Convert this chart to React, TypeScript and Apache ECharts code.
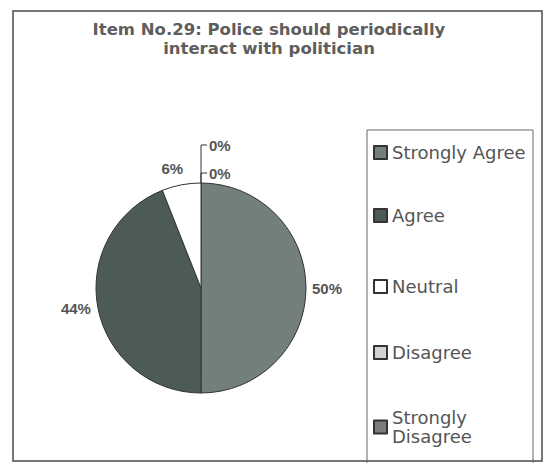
import React, { useEffect, useRef } from "react";
import * as echarts from "echarts";

const titleLines = ["Item No.29: Police should periodically", "interact with politician"];
const categories = ["Strongly Agree", "Agree", "Neutral", "Disagree", "Strongly Disagree"];
const values = [50, 44, 6, 0, 0];
const colors = ["#737f7a", "#4c5b56", "#ffffff", "#d2d2d2", "#7c7c7c"];
// zero-value slices are drawn first so their leaders sit at the top, right of the split line
const drawOrder = [3, 4, 0, 1, 2];
const leaderLength: Record<string, number> = {
  "Strongly Agree": 4,
  Agree: 5,
  Neutral: 17,
  Disagree: 10,
  "Strongly Disagree": 38,
};
const leaderLength2: Record<string, number> = {
  "Strongly Agree": 0,
  Agree: 0,
  Neutral: -7,
  Disagree: 6,
  "Strongly Disagree": 6,
};

export default function App() {
  const ref = useRef<HTMLDivElement>(null);
  useEffect(() => {
    if (!ref.current) return;
    const chart = echarts.init(ref.current, undefined, { renderer: "svg" });
    const data = drawOrder.map((i) => {
      const name = categories[i];
      const zero = values[i] === 0;
      return {
        name,
        value: values[i],
        itemStyle: { color: colors[i] },
        labelLine: {
          show: zero,
          length: leaderLength[name],
          length2: leaderLength2[name],
        },
      };
    });
    const legendTops = [143, 206, 277, 343, 408];
    chart.setOption({
      animation: false,
      backgroundColor: "#ffffff",
      title: {
        text: titleLines.join("\n"),
        left: 269,
        top: 20,
        padding: 0,
        textAlign: "center",
        textStyle: {
          fontFamily: "DejaVu Sans",
          fontWeight: "bold",
          fontSize: 16.5,
          lineHeight: 19,
          color: "#5e5e5e",
        },
      },
      graphic: [
        {
          type: "rect",
          shape: { x: 13, y: 11, width: 529, height: 450 },
          style: { fill: "none", stroke: "#4a4a4a", lineWidth: 1.5 },
          silent: true,
        },
        {
          type: "rect",
          shape: { x: 367, y: 130, width: 166, height: 345 },
          style: { fill: "none", stroke: "#666666", lineWidth: 1 },
          silent: true,
        },
      ],
      legend: categories.map((c, i) => ({
        data: [c],
        orient: "vertical",
        left: 373,
        top: legendTops[i],
        padding: 0,
        icon: "rect",
        itemWidth: 13,
        itemHeight: 13,
        selectedMode: false,
        formatter: (n: string) => (n === "Strongly Disagree" ? "Strongly\nDisagree" : n),
        textStyle: {
          fontFamily: "DejaVu Sans",
          fontSize: 18,
          lineHeight: 19,
          color: "#555555",
        },
      })),
      series: [
        {
          type: "pie",
          center: [201, 288],
          radius: 105,
          startAngle: 89.99,
          clockwise: true,
          avoidLabelOverlap: false,
          emphasis: { disabled: true },
          itemStyle: { borderColor: "#333333", borderWidth: 1 },
          label: {
            show: true,
            position: "outside",
            distanceToLabelLine: 2,
            formatter: (p: any) => `${p.value}%`,
            fontFamily: "Liberation Sans",
            fontWeight: "bold",
            fontSize: 15,
            color: "#555555",
          },
          labelLine: {
            show: false,
            length: 4,
            length2: 0,
            lineStyle: { color: "#333333", width: 1 },
          },
          data,
        },
      ],
    });
    return () => chart.dispose();
  }, []);
  return (
    <div
      ref={ref}
      style={{ position: "fixed", left: 0, top: 0, width: 547, height: 463 }}
    />
  );
}
